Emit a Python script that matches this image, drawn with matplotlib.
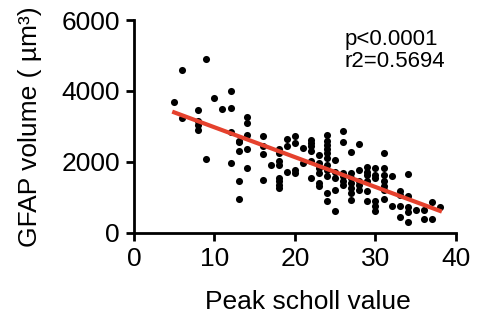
import numpy as np
import matplotlib
matplotlib.use("Agg")
import matplotlib.pyplot as plt

plt.rcParams['font.family'] = ['Liberation Sans', 'DejaVu Sans']

# peak scholl value (x) and GFAP volume (y)
scholl = [5, 6, 6, 8, 8, 8, 8, 9, 9, 10, 11,
          12, 12, 12, 12, 13, 13, 13, 13, 13,
          14, 14, 14, 14, 14, 16, 16, 16, 16, 17,
          18, 18, 18, 18, 18, 18, 18, 18,
          19, 19, 19, 20, 20, 20, 20, 21, 21,
          22, 22, 22, 22, 22, 22,
          23, 23, 23, 23, 23, 23,
          24, 24, 24, 24, 24, 24, 24, 24, 24, 24, 24,
          25, 25, 25, 25, 25,
          26, 26, 26, 26, 26, 26,
          27, 27, 27, 27, 27, 27, 27,
          28, 28, 28, 28, 28,
          29, 29, 29, 29, 29, 29,
          30, 30, 30, 30, 30, 30,
          31, 31, 31, 31, 31, 31, 31,
          32, 32, 33, 33, 33, 33,
          34, 34, 34, 34, 34, 35, 36, 36, 37, 37, 38]
gfap = [3700, 4580, 3230, 3450, 3160, 3050, 2900, 4890, 2090, 3800, 3490,
        4010, 3525, 2830, 1960, 2600, 2560, 2300, 1450, 960,
        3260, 3090, 2750, 2360, 1830, 2720, 2460, 2230, 1500, 1920,
        2360, 2250, 2020, 1920, 1550, 1450, 1360, 1270,
        2640, 2460, 1730, 2720, 2530, 1780, 1690, 2390, 1970,
        2620, 2530, 2440, 2300, 2020, 1550,
        2200, 1970, 1830, 1690, 1400, 1310,
        2770, 2580, 2480, 2360, 2250, 2110, 1920, 1780, 1590, 1120, 890,
        2060, 1730, 1550, 1220, 610,
        2860, 2560, 1690, 1590, 1450, 1350,
        2270, 1690, 1550, 1410, 1270, 1120, 940,
        2500, 1780, 1450, 1360, 1220,
        1870, 1730, 1640, 1450, 1170, 890,
        1830, 1640, 1550, 890, 750, 610,
        2250, 1830, 1640, 1450, 1310, 1220, 960,
        1610, 770, 1170, 1080, 770, 450,
        1670, 1030, 720, 580, 310, 650, 650, 380, 870, 390, 730]

x = np.array(scholl, dtype=float)
y = np.array(gfap, dtype=float)

# linear fit
slope, intercept = np.polyfit(x, y, 1)
xfit = np.array([x.min(), x.max()])
yfit = slope * xfit + intercept

fig = plt.figure(figsize=(4.8, 3.23), dpi=100)
ax = fig.add_axes([0.279, 0.279, 0.671, 0.659])

ax.scatter(x, y, s=26, color='black', zorder=2, linewidths=0)
ax.plot(xfit, yfit, color='#e5412d', lw=3, zorder=3)

ax.set_xlim(0, 40)
ax.set_ylim(0, 6000)
ax.set_xticks([0, 10, 20, 30, 40])
ax.set_yticks([0, 2000, 4000, 6000])

for s in ['top', 'right']:
    ax.spines[s].set_visible(False)
for s in ['left', 'bottom']:
    ax.spines[s].set_linewidth(2)
ax.tick_params(width=2, length=6, labelsize=19, pad=4)

ax.set_xlabel('Peak scholl value', fontsize=19)
ax.xaxis.set_label_coords(0.54, -0.27)
ax.set_ylabel('GFAP volume ( µm³)', fontsize=19)
ax.yaxis.set_label_coords(-0.285, 0.5)

ax.text(0.655, 0.96, 'p<0.0001\nr2=0.5694', transform=ax.transAxes,
        fontsize=16, va='top', ha='left', linespacing=1.1)

fig.savefig('out.png', dpi=100)
